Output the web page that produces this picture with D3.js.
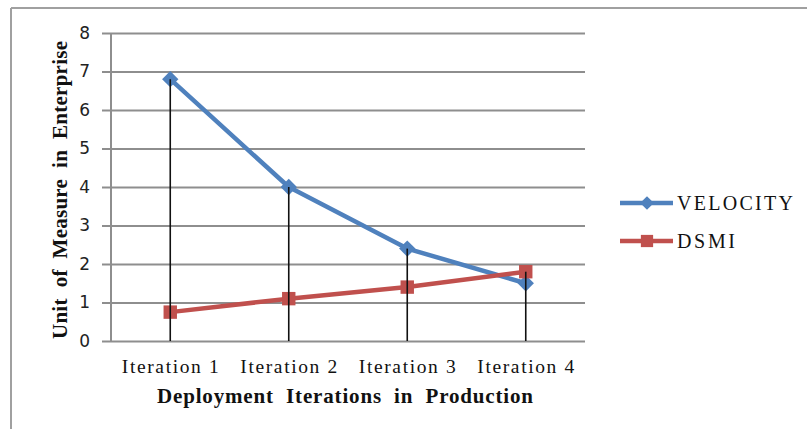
<!DOCTYPE html>
<html>
<head>
<meta charset="utf-8">
<script src="https://cdn.jsdelivr.net/npm/d3@7"></script>
<style>
  html, body { margin: 0; padding: 0; background: #fff; }
  svg { display: block; }
  text { white-space: pre; }
</style>
</head>
<body>
<svg id="chart" width="807" height="429"></svg>
<script>
// Chart data
const categories = ["Iteration 1", "Iteration 2", "Iteration 3", "Iteration 4"];
const velocity = [6.8, 4.0, 2.4, 1.5];
const dsmi = [0.75, 1.1, 1.4, 1.8];
const seriesNames = ["VELOCITY", "DSMI"];
const yTicks = [0, 1, 2, 3, 4, 5, 6, 7, 8];
const xTitle = "Deployment  Iterations  in  Production";
const yTitle = "Unit  of  Measure  in  Enterprise";

const W = 807, H = 429;
const plot = { left: 111, right: 585, top: 33, bottom: 341 };
const serif = "'Liberation Serif', 'Times New Roman', serif";
const sans = "'DejaVu Sans', Verdana, sans-serif";
const gridColor = "#8e8e8e";
const colors = { VELOCITY: "#4f81bd", DSMI: "#c0504d" };

const svg = d3.select("#chart");

// Outer chart frame (top and left edges visible)
svg.append("line").attr("x1", 11).attr("x2", W).attr("y1", 8).attr("y2", 8)
  .attr("stroke", "#a0a0a0").attr("stroke-width", 2);
svg.append("line").attr("x1", 11).attr("x2", 11).attr("y1", 8).attr("y2", H)
  .attr("stroke", "#a0a0a0").attr("stroke-width", 2);

const x = d3.scaleBand().domain(categories).range([plot.left, plot.right]);
const y = d3.scaleLinear().domain([0, 8]).range([plot.bottom, plot.top]);
const cx = d => x(d) + x.bandwidth() / 2;

// Horizontal gridlines with outside tick marks
const yAxis = d3.axisLeft(y).tickValues(yTicks)
  .tickSize(-(plot.right - plot.left)).tickSizeOuter(0).tickPadding(20)
  .tickFormat(d3.format("d"));
const gy = svg.append("g").attr("transform", `translate(${plot.left},0)`).call(yAxis);
gy.select(".domain").remove();
gy.selectAll(".tick line")
  .attr("x1", -9)
  .attr("stroke", gridColor).attr("stroke-width", 2);
gy.selectAll(".tick text")
  .attr("x", -21)
  .attr("font-family", sans).attr("font-size", 17).attr("fill", "#222");

// Vertical value axis line
svg.append("line").attr("x1", plot.left).attr("x2", plot.left)
  .attr("y1", plot.top).attr("y2", plot.bottom)
  .attr("stroke", gridColor).attr("stroke-width", 2);

// Category labels
const xAxis = d3.axisBottom(x).tickSize(0).tickPadding(0);
const gx = svg.append("g").attr("transform", `translate(0,${plot.bottom})`).call(xAxis);
gx.select(".domain").remove();
gx.selectAll(".tick text")
  .attr("y", 32).attr("dy", 0)
  .attr("font-family", serif).attr("font-size", 19.5).attr("fill", "#111")
  .attr("textLength", 97).attr("lengthAdjust", "spacing");

// Series lines
const line = d3.line().x((d, i) => cx(categories[i])).y(d => y(d));
const series = [
  { name: "VELOCITY", values: velocity },
  { name: "DSMI", values: dsmi }
];
series.forEach(s => {
  svg.append("path").datum(s.values)
    .attr("d", line)
    .attr("fill", "none")
    .attr("stroke", colors[s.name]).attr("stroke-width", 4.5)
    .attr("stroke-linejoin", "round");
});

// Markers
const diamond = d3.symbol().type(d3.symbolDiamond2).size(170);
const square = d3.symbol().type(d3.symbolSquare).size(180);
svg.append("g").selectAll("path").data(velocity).join("path")
  .attr("d", diamond)
  .attr("transform", (d, i) => `translate(${cx(categories[i])},${y(d)})`)
  .attr("fill", colors.VELOCITY);
svg.append("g").selectAll("path").data(dsmi).join("path")
  .attr("d", square)
  .attr("transform", (d, i) => `translate(${cx(categories[i])},${y(d)})`)
  .attr("fill", colors.DSMI);

// Drop lines from the highest point of each category down to the axis
const tops = categories.map((c, i) => Math.max(velocity[i], dsmi[i]));
svg.append("g").selectAll("line").data(tops).join("line")
  .attr("x1", (d, i) => cx(categories[i])).attr("x2", (d, i) => cx(categories[i]))
  .attr("y1", d => y(d)).attr("y2", y(0))
  .attr("stroke", "#111").attr("stroke-width", 1.6);

// Axis titles
svg.append("text")
  .attr("x", 345).attr("y", 403)
  .attr("text-anchor", "middle")
  .attr("font-family", serif).attr("font-weight", "bold").attr("font-size", 21)
  .attr("fill", "#111")
  .attr("textLength", 376).attr("lengthAdjust", "spacing")
  .text(xTitle);
svg.append("text")
  .attr("transform", "translate(67,190) rotate(-90)")
  .attr("text-anchor", "middle")
  .attr("font-family", serif).attr("font-weight", "bold").attr("font-size", 21)
  .attr("fill", "#111")
  .attr("textLength", 298).attr("lengthAdjust", "spacing")
  .text(yTitle);

// Legend
const legend = [
  { name: seriesNames[0], y: 203, sym: d3.symbol().type(d3.symbolDiamond2).size(120), width: 116 },
  { name: seriesNames[1], y: 241, sym: d3.symbol().type(d3.symbolSquare).size(150), width: 58 }
];
legend.forEach(l => {
  const g = svg.append("g");
  g.append("line").attr("x1", 620).attr("x2", 673).attr("y1", l.y).attr("y2", l.y)
    .attr("stroke", colors[l.name]).attr("stroke-width", 4.5);
  g.append("path").attr("d", l.sym())
    .attr("transform", `translate(647,${l.y})`)
    .attr("fill", colors[l.name]);
  g.append("text")
    .attr("x", 677).attr("y", l.y + 7)
    .attr("font-family", serif).attr("font-size", 20).attr("fill", "#111")
    .attr("textLength", l.width).attr("lengthAdjust", "spacing")
    .text(l.name);
});
</script>
</body>
</html>
